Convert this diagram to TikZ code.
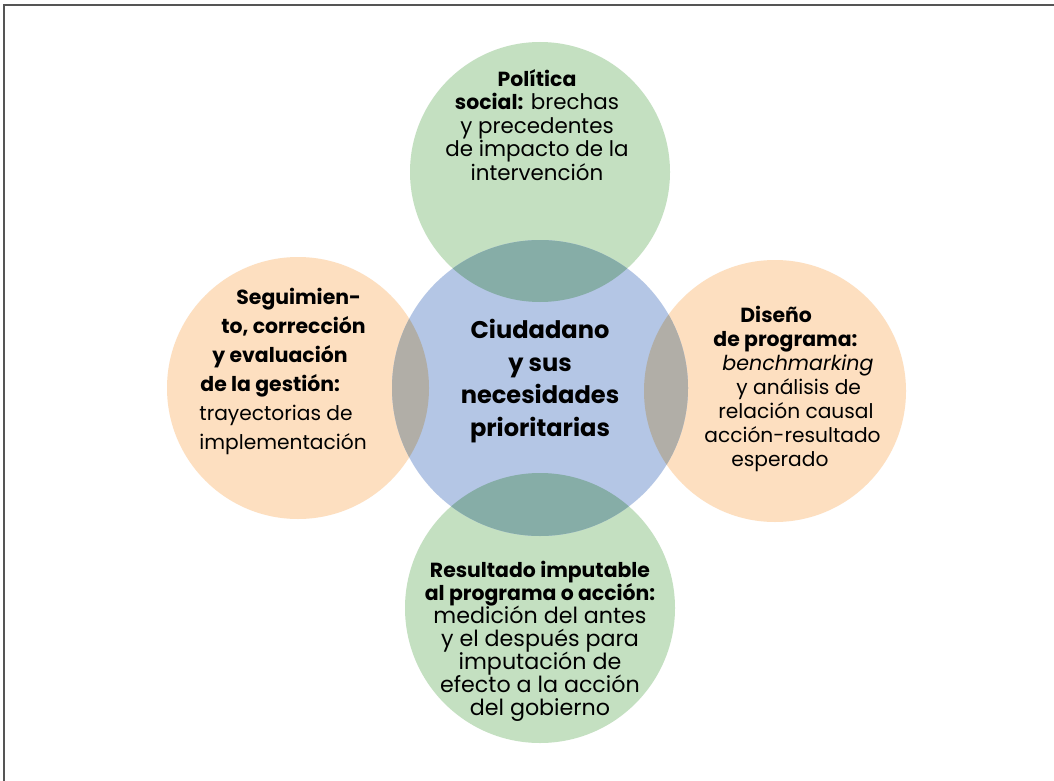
\documentclass[tikz,border=0pt]{standalone}
\usepackage{fontspec}
\setmainfont{Poppins}
\newcommand\bt[1]{{\fontsize{10.2}{12}\selectfont\bfseries #1}}
\newcommand\itx[1]{{\fontsize{10.3}{12}\selectfont\itshape #1}}
\newcommand\fsz[2]{\fontsize{#1}{#2}\selectfont\lineskiplimit=-100pt\lineskip=0pt}
\definecolor{cgreen}{HTML}{C4E0C1}
\definecolor{cblue}{HTML}{B4C6E5}
\definecolor{corange}{HTML}{FDDFC0}
\definecolor{cteal}{HTML}{86ADA7}
\definecolor{cgray}{HTML}{B1AEA7}
\definecolor{cframe}{HTML}{555555}
\tikzset{
  bub/.style={circle, inner sep=0pt, minimum size=#1},
  txt/.style={text=black, inner sep=0pt, align=center},
  txtl/.style={text=black, inner sep=0pt, align=left},
}
\begin{document}
\begin{tikzpicture}[x=0.5pt,y=-0.5pt]
\useasboundingbox (0,0) rectangle (1054,781);
\fill[white] (0,0) rectangle (1054,781);
% frame
\draw[cframe, line width=1pt] (1054,5.5) -- (3.5,5.5) -- (3.5,781);
% circles
\node[bub=130pt, fill=cgreen] (pol) at (540,172) {};
\node[bub=135pt, fill=cgreen] (res) at (540,608) {};
\node[bub=131pt, fill=corange] (seg) at (298,388) {};
\node[bub=131pt, fill=corange] (dis) at (775,391) {};
\node[bub=148pt, fill=cblue] (ciu) at (540,388) {};
% overlaps
\begin{scope}
  \clip (ciu.center) circle[radius=74pt];
  \fill[cteal] (pol.center) circle[radius=65pt];
  \fill[cteal] (res.center) circle[radius=67.5pt];
  \fill[cgray] (seg.center) circle[radius=65.5pt];
  \fill[cgray] (dis.center) circle[radius=65.5pt];
\end{scope}
% texts
\node[txt, font=\fsz{12.05}{16.25}\bfseries] (tciu) at (540,381)
  {Ciudadano\\y sus\\necesidades\\prioritarias};
\node[txt, font=\fsz{10.7}{11.8}] (tpol) at (537,125)
  {\bt{Política}\\\bt{social:} brechas\\y precedentes\\de impacto de la\\intervención};
\node[txt, font=\fsz{11.1}{11.5}] (tres) at (540,641.5)
  {\bt{Resultado imputable}\\\bt{al programa o acción:}\\medición del antes\\y el después para\\imputación de\\efecto a la acción\\del gobierno};
\node[txtl, anchor=west, font=\fsz{10.1}{14.5}] (tseg) at (199,371)
  {\hspace*{18.5pt}\bt{Seguimien-}\\\hspace*{11pt}\bt{to, corrección}\\\hspace*{6.5pt}\bt{y evaluación}\\\hspace*{0.5pt}\bt{de la gestión:}\\trayectorias de\\implementación};
\node[txtl, anchor=west, font=\fsz{10.1}{12}] (tdis) at (704,389)
  {\hspace*{18pt}\bt{Diseño}\\\hspace*{4.5pt}\bt{de programa:}\\\hspace*{9pt}\itx{benchmarking}\\\hspace*{16pt}y análisis de\\\hspace*{7pt}relación causal\\acción-resultado\\\hspace*{13.5pt}esperado};
\end{tikzpicture}
\end{document}
